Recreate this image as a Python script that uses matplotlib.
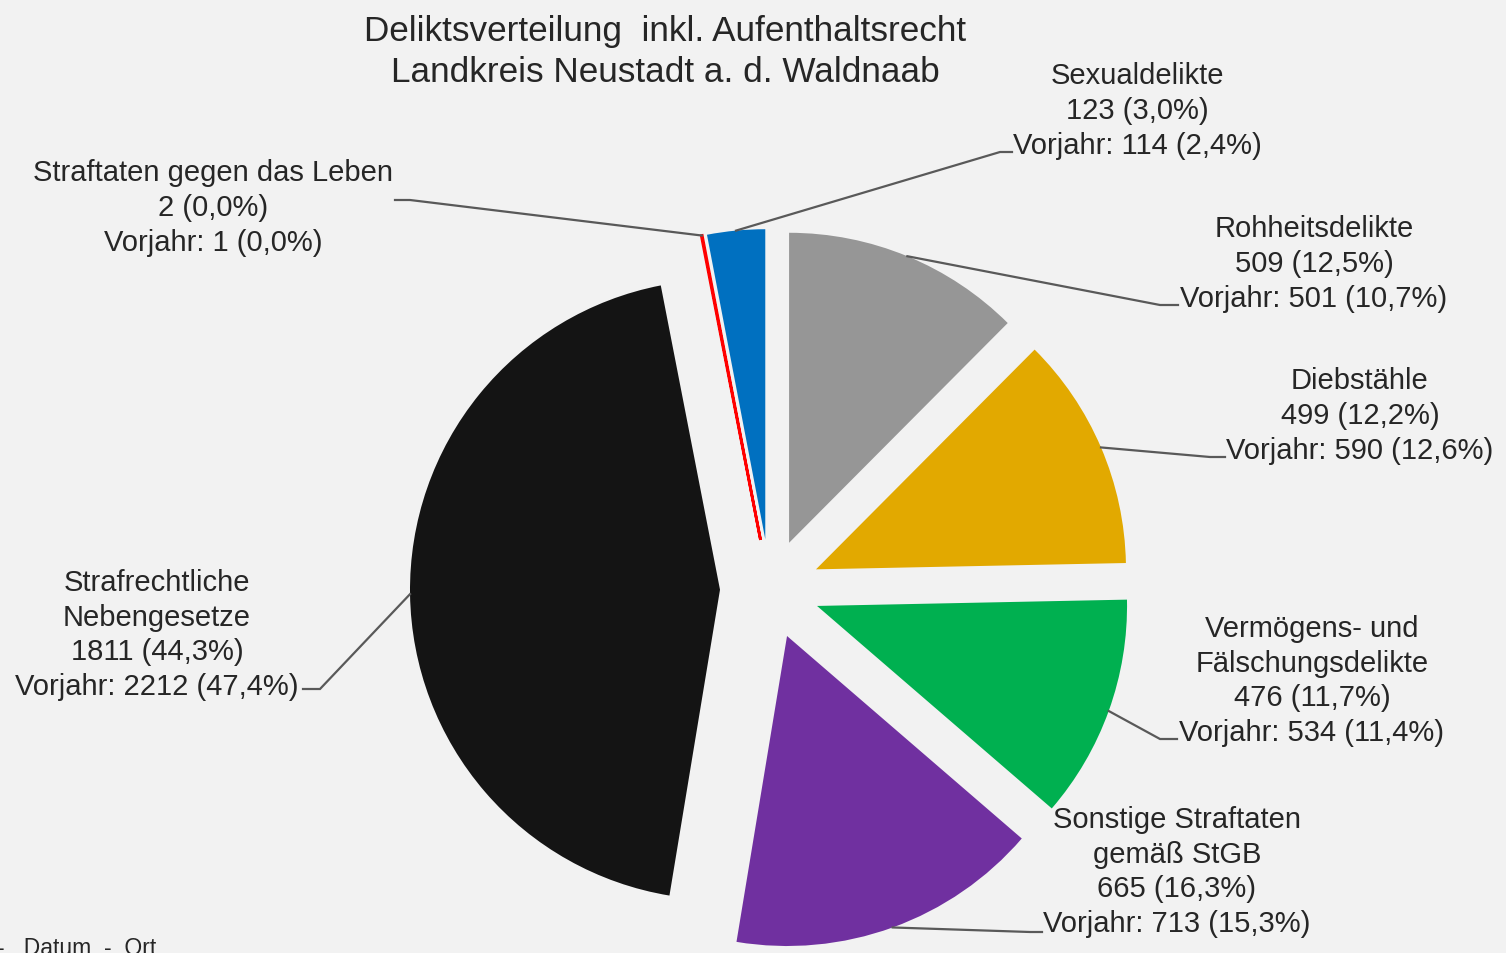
import numpy as np
import matplotlib.pyplot as plt

plt.rcParams['font.family'] = ['Liberation Sans', 'DejaVu Sans']

# data (clockwise from 12 o'clock)
kategorien = ["Rohheitsdelikte", "Diebstähle", "Vermögens- und\nFälschungsdelikte",
              "Sonstige Straftaten\ngemäß StGB", "Strafrechtliche\nNebengesetze",
              "Straftaten gegen das Leben", "Sexualdelikte"]
faelle = [509, 499, 476, 665, 1811, 2, 123]
vorjahr = [501, 590, 534, 713, 2212, 1, 114]
vorjahr_pct = ["10,7", "12,6", "11,4", "15,3", "47,4", "0,0", "2,4"]
farben = ["#969696", "#e2a900", "#00b050", "#7030a0", "#141414", "#ff0000", "#0070c0"]

# layout in pixels of the 1506x954 canvas
W, H = 1506, 954
R = 310.0                      # pie radius in px
mitte = (770, 590)
label_pos = [(1314, 264), (1360, 416), (1312, 681), (1177, 872),
             (157, 635), (213, 208), (1137, 111)]
knick = [(1160, 306), (1210, 458), (1160, 740), (1030, 933),
         (320, 690), (410, 201), (1000, 153)]
ende = [(1178, 306), (1225, 458), (1177, 740), (1042, 933),
        (303, 690), (395, 201), (1012, 153)]


def P(x, y):
    return x / R, (H - y) / R


fig = plt.figure(figsize=(W / 100, H / 100), dpi=100)
fig.patch.set_facecolor("#f2f2f2")
ax = fig.add_axes([0, 0, 1, 1])

wedges, _ = ax.pie(faelle, colors=farben, startangle=90, counterclock=False,
                   radius=1, center=P(*mitte), explode=[50 / R] * len(faelle))
ax.set_xlim(0, W / R)
ax.set_ylim(0, H / R)
ax.set_aspect("equal")
ax.axis("off")

# thin slice gets a visible edge
wedges[5].set_edgecolor("#ff0000")
wedges[5].set_linewidth(2)

gesamt = sum(faelle)
txtfarbe = "#262626"
for i, w in enumerate(wedges):
    pct = f"{100 * faelle[i] / gesamt:.1f}".replace(".", ",")
    txt = f"{kategorien[i]}\n{faelle[i]} ({pct}%)\nVorjahr: {vorjahr[i]} ({vorjahr_pct[i]}%)"
    ax.text(*P(*label_pos[i]), txt, ha="center", va="center", fontsize=21,
            color=txtfarbe, linespacing=1.3)
    # leader line from the middle of the wedge arc
    th = np.deg2rad((w.theta1 + w.theta2) / 2)
    ax0 = w.center[0] + w.r * np.cos(th)
    ay0 = w.center[1] + w.r * np.sin(th)
    kx, ky = P(*knick[i])
    ex, ey = P(*ende[i])
    ax.plot([ax0, kx, ex], [ay0, ky, ey], color="#595959", lw=1.6,
            solid_joinstyle="miter")

ax.text(*P(665, 52), "Deliktsverteilung  inkl. Aufenthaltsrecht\nLandkreis Neustadt a. d. Waldnaab",
        ha="center", va="center", fontsize=25.3, color="#262626", linespacing=1.28)

fig.text(-3 / W, 1 - 937 / H, "-   Datum  -  Ort", ha="left", va="top",
         fontsize=16.5, color="#262626")

fig.savefig("out.png", dpi=100, facecolor=fig.get_facecolor())
